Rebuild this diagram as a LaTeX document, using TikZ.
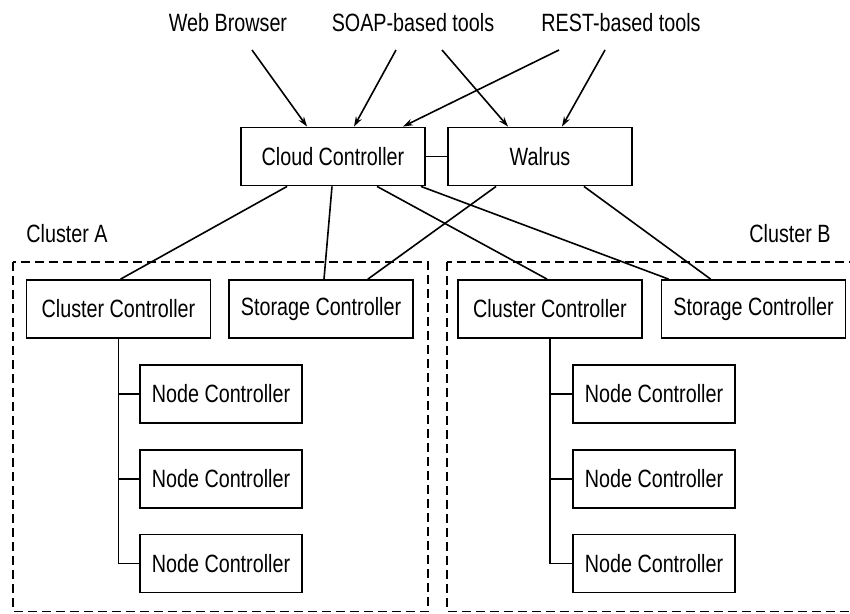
\documentclass[tikz,border=0pt]{standalone}
\usepackage{fontspec}
\setmainfont[FakeStretch=0.79]{Liberation Sans}
\usetikzlibrary{arrows.meta}
\begin{document}
\begin{tikzpicture}[x=1pt,y=-1pt,
  txt/.style={font=\fontsize{25}{29}\selectfont, inner sep=0pt},
  box/.style={txt, draw, line width=1.8pt, minimum height=58pt},
  bigbox/.style={box, minimum width=184pt},
  ncbox/.style={box, minimum width=162pt},
  conn/.style={line width=1.6pt},
  arr/.style={line width=1.6pt, -{Stealth[length=10pt,width=6.5pt]}},
  cluster/.style={line width=1.6pt, dash pattern=on 9pt off 5pt}]
\useasboundingbox (0,0) rectangle (850,613);
\clip (0,0) rectangle (850,613);

% top labels
\node[txt] (wb) at (228,23) {Web Browser};
\node[txt] (soap) at (413,23) {SOAP-based tools};
\node[txt] (rest) at (621,23) {REST-based tools};
\coordinate (wbs) at (252,50);
\coordinate (soaps1) at (396,50);
\coordinate (soaps2) at (442,50);
\coordinate (rests1) at (559,50);
\coordinate (rests2) at (605,50);

% cloud level
\node[bigbox] (cc) at (333,156.5) {Cloud Controller};
\node[bigbox] (wal) at (540,156.5) {Walrus};

% cluster frames
\draw[cluster] (13,262) rectangle (428,611.5);
\draw[cluster] (447,262) rectangle (870,611.5);
\node[txt] (cla) at (67,234) {Cluster A};
\node[txt] (clb) at (790,234) {Cluster B};

% cluster controllers
\node[bigbox] (cca) at (118.5,309) {Cluster Controller};
\node[bigbox] (sca) at (321,309) {Storage Controller};
\node[bigbox] (ccb) at (550,309) {Cluster Controller};
\node[bigbox] (scb) at (753.5,309) {Storage Controller};

% node controllers
\node[ncbox] (na1) at (221,394) {Node Controller};
\node[ncbox] (na2) at (221,479) {Node Controller};
\node[ncbox] (na3) at (221,563.5) {Node Controller};
\node[ncbox] (nb1) at (654,394) {Node Controller};
\node[ncbox] (nb2) at (654,479) {Node Controller};
\node[ncbox] (nb3) at (654,563.5) {Node Controller};

% arrows
\draw[arr] (wbs) -- ([xshift=67pt]cc.north west);
\draw[arr] (soaps1) -- ([xshift=21pt]cc.north);
\draw[arr] (soaps2) -- ([xshift=61pt]wal.north west);
\draw[arr] (rests1) -- ([xshift=-23pt]cc.north east);
\draw[arr] (rests2) -- ([xshift=22pt]wal.north);

% connectors
\draw[conn] (cc.east) -- (wal.west);
\draw[conn] ([xshift=47pt]cc.south west) -- ([xshift=95pt]cca.north west);
\draw[conn] ([xshift=-1pt]cc.south) -- ([xshift=3pt]sca.north);
\draw[conn] ([xshift=44pt]cc.south) -- ([xshift=-3pt]ccb.north);
\draw[conn] ([xshift=-5pt]cc.south east) -- ([xshift=8pt]scb.north west);
\draw[conn] ([xshift=49pt]wal.south west) -- ([xshift=-46pt]sca.north east);
\draw[conn] ([xshift=-49pt]wal.south east) -- ([xshift=50pt]scb.north west);

% trunks
\draw[conn] (cca.south) |- (na3.west);
\draw[conn] (cca.south |- na1.west) -- (na1.west);
\draw[conn] (cca.south |- na2.west) -- (na2.west);
\draw[conn] (ccb.south) |- (nb3.west);
\draw[conn] (ccb.south |- nb1.west) -- (nb1.west);
\draw[conn] (ccb.south |- nb2.west) -- (nb2.west);
\end{tikzpicture}
\end{document}
